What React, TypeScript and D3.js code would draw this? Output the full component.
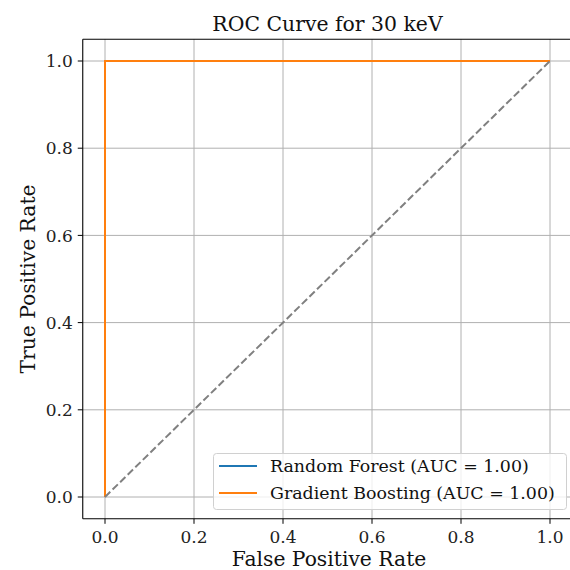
import React from "react";
import * as d3 from "d3";

const rfFpr = [0, 0, 1];
const rfTpr = [0, 1, 1];
const gbFpr = [0, 0, 1];
const gbTpr = [0, 1, 1];
const diagonal = [0, 1];
const ticks = [0, 0.2, 0.4, 0.6, 0.8, 1.0];
const seriesNames = ["Random Forest (AUC = 1.00)", "Gradient Boosting (AUC = 1.00)"];
const seriesColors = ["#1f77b4", "#ff7f0e"];

const W = 570, H = 570;
const left = 82.75, right = 572.25, top = 39.2, bottom = 518.8;
const font = "DejaVu Serif";

export default function App() {
  const x = d3.scaleLinear().domain([-0.05, 1.05]).range([left, right]);
  const y = d3.scaleLinear().domain([-0.05, 1.05]).range([bottom, top]);
  const line = d3.line<[number, number]>().x(d => x(d[0])).y(d => y(d[1]));
  const rf = rfFpr.map((v, i) => [v, rfTpr[i]] as [number, number]);
  const gb = gbFpr.map((v, i) => [v, gbTpr[i]] as [number, number]);
  const diag = diagonal.map(v => [v, v] as [number, number]);
  return (
    <svg width={W} height={H} style={{ position: "absolute", left: 0, top: 0 }}>
      <rect x={0} y={0} width={W} height={H} fill="white" />
      <defs>
        <clipPath id="plot">
          <rect x={left} y={top} width={right - left} height={bottom - top} />
        </clipPath>
      </defs>
      {ticks.map(t => (
        <g key={"g" + t}>
          <line x1={x(t)} x2={x(t)} y1={top} y2={bottom} stroke="#b0b0b0" strokeWidth={1} />
          <line x1={left} x2={right} y1={y(t)} y2={y(t)} stroke="#b0b0b0" strokeWidth={1} />
        </g>
      ))}
      <g clipPath="url(#plot)">
        <path d={line(rf) || ""} fill="none" stroke={seriesColors[0]} strokeWidth={2} />
        <path d={line(gb) || ""} fill="none" stroke={seriesColors[1]} strokeWidth={2} />
        <path d={line(diag) || ""} fill="none" stroke="#808080" strokeWidth={2} strokeDasharray="7.4,3.2" />
      </g>
      <line x1={left} x2={left} y1={top} y2={bottom} stroke="black" strokeWidth={1.1} />
      <line x1={left} x2={right} y1={bottom} y2={bottom} stroke="black" strokeWidth={1.1} />
      <line x1={left} x2={right} y1={top} y2={top} stroke="black" strokeWidth={1.1} />
      {ticks.map(t => (
        <g key={"t" + t} fontFamily={font} fontSize={17} fill="#222">
          <line x1={x(t)} x2={x(t)} y1={bottom} y2={bottom + 5} stroke="black" />
          <text x={x(t)} y={543} textAnchor="middle">{t.toFixed(1)}</text>
          <line x1={left - 5} x2={left} y1={y(t)} y2={y(t)} stroke="black" />
          <text x={left - 10} y={y(t) + 6.2} textAnchor="end">{t.toFixed(1)}</text>
        </g>
      ))}
      <text x={(left + right) / 2} y={31} textAnchor="middle" fontFamily={font} fontSize={20.4} fill="#111">ROC Curve for 30 keV</text>
      <text x={329} y={566} textAnchor="middle" fontFamily={font} fontSize={20.3} fill="#111">False Positive Rate</text>
      <text transform={`translate(35, ${(top + bottom) / 2}) rotate(-90)`} textAnchor="middle" fontFamily={font} fontSize={20.3} fill="#111">True Positive Rate</text>
      <g>
        <rect x={213.5} y={453.5} width={353} height={56} rx={3} fill="white" fillOpacity={0.8} stroke="#d0d0d0" />
        {seriesNames.map((n, i) => (
          <g key={n}>
            <line x1={219} x2={257} y1={466 + i * 27} y2={466 + i * 27} stroke={seriesColors[i]} strokeWidth={2} />
            <text x={270} y={472 + i * 27} fontFamily={font} fontSize={17.4} fill="#111">{n}</text>
          </g>
        ))}
      </g>
    </svg>
  );
}
